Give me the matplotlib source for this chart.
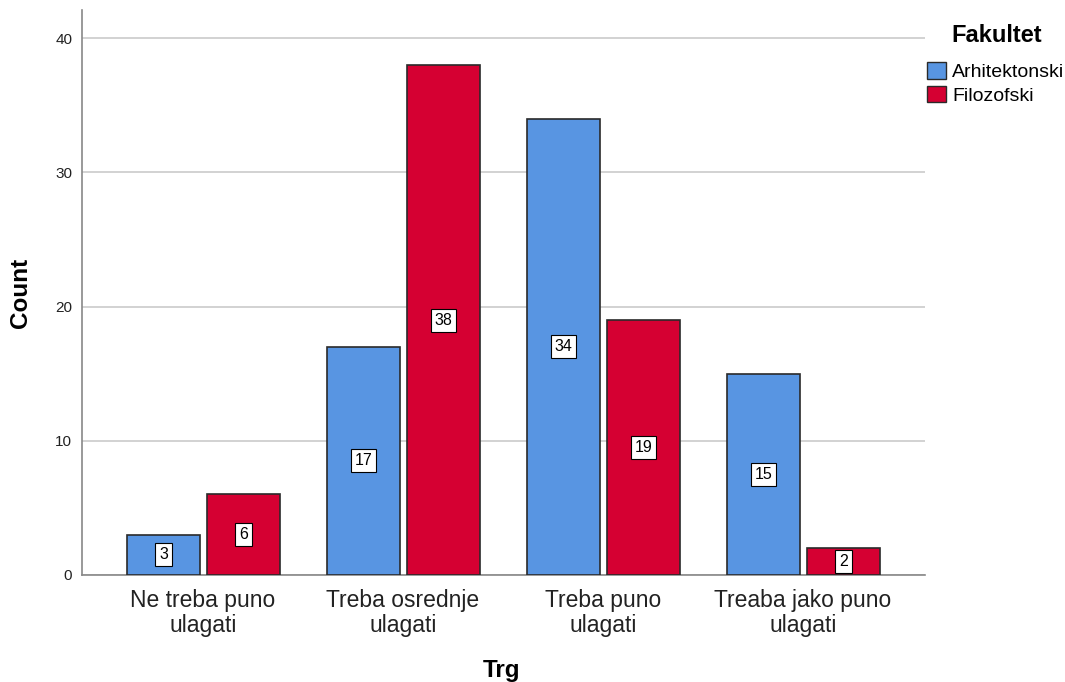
import numpy as np
import matplotlib.pyplot as plt
from matplotlib.patches import Patch

plt.rcParams['font.family'] = ['Liberation Sans', 'DejaVu Sans']

# data
categories = ['Ne treba puno\nulagati', 'Treba osrednje\nulagati', 'Treba puno\nulagati', 'Treaba jako puno\nulagati']
arhitektonski = [3, 17, 34, 15]
filozofski = [6, 38, 19, 2]
series_names = ['Arhitektonski', 'Filozofski']
colors = ['#5895e2', '#d50032']

fig = plt.figure(figsize=(10.65, 6.82), dpi=100)
ax = fig.add_axes([82 / 1065, 107 / 682, 843 / 1065, 565 / 682])

x = np.arange(len(categories))
w = 0.365
offsets = [-0.1975, 0.2025]

for vals, off, col in zip([arhitektonski, filozofski], offsets, colors):
    bars = ax.bar(x + off, vals, width=w, color=col, edgecolor='#2a2a2a', linewidth=1.2, zorder=3)
    for b, v in zip(bars, vals):
        ax.text(b.get_x() + b.get_width() / 2, v / 2, str(v), ha='center', va='center',
                fontsize=11.5, zorder=4,
                bbox=dict(boxstyle='square,pad=0.25', facecolor='white', edgecolor='black', linewidth=0.8))

ax.set_xlim(-0.605, 3.61)
ax.set_ylim(0, 42.1)
ax.set_yticks([0, 10, 20, 30, 40])
ax.yaxis.grid(True, color='#cfcfcf', linewidth=1.3, zorder=0)
ax.set_axisbelow(True)

for s in ['top', 'right']:
    ax.spines[s].set_visible(False)
ax.spines['left'].set_color('#888888')
ax.spines['bottom'].set_color('#888888')
ax.spines['left'].set_linewidth(1.2)
ax.spines['bottom'].set_linewidth(1.2)

ax.set_xticks(x)
ax.set_xticklabels(categories, fontsize=16.5, color='#222222', linespacing=1.1)
ax.tick_params(axis='x', length=0, pad=10)
ax.tick_params(axis='y', length=0, labelsize=11, colors='#222222', pad=7)

ax.set_xlabel('Trg', fontsize=17.5, fontweight='bold')
ax.set_ylabel('Count', fontsize=17.5, fontweight='bold')
ax.xaxis.set_label_coords(0.498, -0.148)
ax.yaxis.set_label_coords(-0.059, 0.5)

# legend
fig.text(997 / 1065, 1 - 35 / 682, 'Fakultet', ha='center', va='center', fontsize=17, fontweight='bold')
handles = [Patch(facecolor=c, edgecolor='#2a2a2a', linewidth=1.0) for c in colors]
fig.legend(handles, series_names, loc='upper left', bbox_to_anchor=(927 / 1065, 1 - 62 / 682),
           frameon=False, fontsize=14, borderpad=0, borderaxespad=0,
           handlelength=1.0, handleheight=0.93, handletextpad=0.3, labelspacing=0.24)

fig.savefig('out.png', dpi=100)
